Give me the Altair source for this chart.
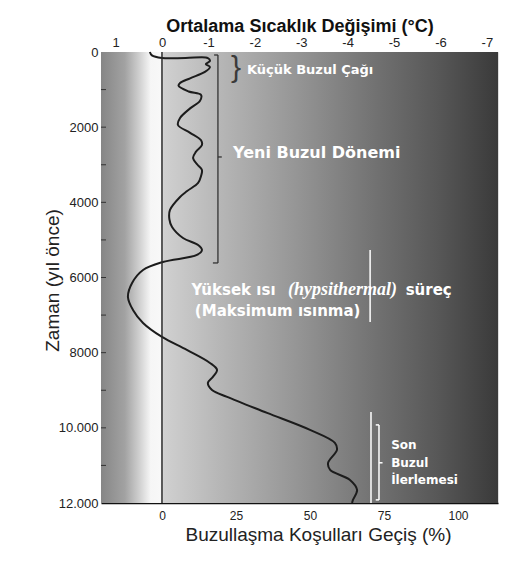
import altair as alt
import pandas as pd

# ---- data ----
curve_year = [0, 90, 160, 160, 160, 240, 320, 400, 530, 700, 825, 900, 1050, 1144, 1303, 1500,
              1756, 1942, 2150, 2350, 2474, 2650, 2820, 3000, 3139, 3300, 3485, 3700, 3857, 4203,
              4450, 4655, 4948, 5134, 5267, 5400, 5586, 5799, 6145, 6517, 6863, 7209, 7581, 7927,
              8273, 8459, 8645, 8805, 8991, 9177, 9603, 10055, 10401, 10587, 10933, 11119, 11385,
              11651, 11917, 12000]
curve_pct = [-4.1, -3.4, 0, 8, 15.5, 16.2, 14.8, 16.2, 14.5, 9.5, 6.1, 5.6, 9, 13.2, 12.8, 9.5,
             6.1, 5.4, 9.5, 13.2, 13.5, 11.5, 10.5, 12, 13.5, 13.2, 12.2, 8.5, 6.1, 2.7,
             2.5, 3.4, 7.1, 12.2, 13.5, 11.8, 0.3, -6.4, -10.1, -11.5, -9.8, -6.4, 0, 8.4,
             16.2, 18.6, 17.2, 15.5, 16.9, 22.0, 35.5, 50.0, 58.4, 59.1, 56.1, 56.8, 63.5,
             65.9, 64.5, 64.2]

y_tick_values = [0, 1000, 2000, 3000, 4000, 5000, 6000, 7000, 8000, 9000, 10000, 11000, 12000]
y_tick_labels = ["0", "", "2000", "", "4000", "", "6000", "", "8000", "", "10.000", "", "12.000"]
pct_ticks = [0, 25, 50, 75, 100]
temp_ticks = [1, 0, -1, -2, -3, -4, -5, -6, -7]

# annotations (data units: years / percent)
lia_text = ["Küçük Buzul Çağı"]
lia_year = [480]
lia_pct = [28.7]

neo_text = ["Yeni Buzul Dönemi"]
neo_year = [2700]
neo_pct = [24.0]

hyp_text = ["Yüksek ısı", "süreç", "(Maksimum ısınma)"]
hyp_year = [6330, 6330, 6900]
hyp_pct = [10.0, 82.3, 11.1]

ital_text = ["(hypsithermal)"]
ital_year = [6330]
ital_pct = [42.6]

son_text = ["Son", "Buzul", "İlerlemesi"]
son_year = [10450, 10930, 11380]
son_pct = [77.4, 77.4, 77.4]

dark_seg_p1 = [18.9, 17.2, 18.9, 17.6]
dark_seg_p2 = [18.9, 18.9, 20.2, 18.9]
dark_seg_y1 = [80, 5613, 2793, 80]
dark_seg_y2 = [5613, 5613, 2793, 80]

white_seg_p1 = [70.6, 70.3, 73.3, 72.2, 72.2, 73.3]
white_seg_p2 = [70.6, 70.3, 73.3, 73.3, 73.3, 74.5]
white_seg_y1 = [9576, 5267, 9922, 9922, 11917, 10930]
white_seg_y2 = [12000, 7182, 11917, 9922, 11917, 10930]

W, H = 397, 451
pct_scale = alt.Scale(domain=[-20.6, 113.5], nice=False, zero=False)
year_scale = alt.Scale(domain=[0, 12000], nice=False, zero=False, reverse=True)

label_expr = " : ".join(
    [f"datum.value == {v} ? '{l}'" for v, l in zip(y_tick_values, y_tick_labels)]
) + " : ''"

gradient = alt.Gradient(
    gradient="linear", x1=0, x2=1, y1=0, y2=0,
    stops=[
        alt.GradientStop(offset=0.0, color="#868686"),
        alt.GradientStop(offset=0.06, color="#a2a2a2"),
        alt.GradientStop(offset=0.10, color="#d4d4d4"),
        alt.GradientStop(offset=0.125, color="#f6f6f6"),
        alt.GradientStop(offset=0.150, color="#f8f8f8"),
        alt.GradientStop(offset=0.158, color="#d0d0d0"),
        alt.GradientStop(offset=0.30, color="#b6b6b6"),
        alt.GradientStop(offset=0.50, color="#949494"),
        alt.GradientStop(offset=0.70, color="#707070"),
        alt.GradientStop(offset=0.85, color="#575757"),
        alt.GradientStop(offset=1.0, color="#3a3a3a"),
    ],
)

X = lambda f: alt.X(f"{f}:Q", scale=pct_scale)
Y = lambda f: alt.Y(f"{f}:Q", scale=year_scale)

one = pd.DataFrame({"a": [0]})
bg = alt.Chart(one).mark_rect(color=gradient).encode(
    x=alt.value(0), x2=alt.value(W), y=alt.value(0), y2=alt.value(H)
)

curve_df = pd.DataFrame({"year": curve_year, "pct": curve_pct})
curve = alt.Chart(curve_df).mark_line(
    interpolate="catmull-rom", color="#1c1c1c", strokeWidth=2
).encode(
    x=alt.X("pct:Q", scale=pct_scale, axis=alt.Axis(
        orient="bottom", values=pct_ticks, title="Buzullaşma Koşulları Geçiş (%)",
        grid=False, ticks=False, tickSize=0, labelPadding=7, labelFontSize=12,
        labelFont="Liberation Sans", labelColor="#222", domainColor="#111", domainWidth=1.5,
        titleFont="Liberation Sans", titleFontSize=19, titleFontWeight="normal",
        titleColor="#222", titlePadding=4, titleX=217)),
    y=alt.Y("year:Q", scale=year_scale, axis=alt.Axis(
        values=y_tick_values, labelExpr=label_expr, grid=False, ticks=False, tickSize=0,
        domain=False, labelPadding=3, labelFontSize=13, labelFont="Liberation Sans",
        labelColor="#222", title="Zaman (yıl önce)", titleFont="Liberation Sans",
        titleFontSize=19, titleFontWeight="normal", titleColor="#222",
        titleX=-49, titleY=228, titleBaseline="middle", titleAngle=-90)),
    order="year:Q",
)

zero_line = alt.Chart(pd.DataFrame({"pct": [0]})).mark_rule(color="#2a2a2a", strokeWidth=1.5).encode(
    x=X("pct")
)

ytick = alt.Chart(pd.DataFrame({"year": y_tick_values[1:-1]})).mark_rule(color="#333", strokeWidth=1).encode(
    x=alt.value(0), x2=alt.value(5), y=Y("year")
)

dark_df = pd.DataFrame({"pct": dark_seg_p1, "pct2": dark_seg_p2, "year": dark_seg_y1, "year2": dark_seg_y2})
dark_rules = alt.Chart(dark_df).mark_rule(color="#333", strokeWidth=1.3).encode(
    x=X("pct"), x2="pct2:Q", y=Y("year"), y2="year2:Q",
)

white_df = pd.DataFrame({"pct": white_seg_p1, "pct2": white_seg_p2, "year": white_seg_y1, "year2": white_seg_y2})
white_rules = alt.Chart(white_df).mark_rule(color="#ffffff", strokeWidth=1.5).encode(
    x=X("pct"), x2="pct2:Q", y=Y("year"), y2="year2:Q",
)

brace = alt.Chart(pd.DataFrame({"t": ["}"], "pct": [25.0], "year": [420]})).mark_text(
    font="Liberation Sans", fontSize=30, color="#3a3a3a", align="center", baseline="middle"
).encode(x=X("pct"), y=Y("year"), text="t:N")


def text_layer(texts, years, pcts, **kw):
    df = pd.DataFrame({"t": texts, "year": years, "pct": pcts})
    return alt.Chart(df).mark_text(align="left", baseline="middle", color="white", **kw).encode(
        x=X("pct"), y=Y("year"), text="t:N",
    )


t_lia = text_layer(lia_text, lia_year, lia_pct, font="DejaVu Sans", fontSize=13, fontWeight="bold")
t_neo = text_layer(neo_text, neo_year, neo_pct, font="DejaVu Sans", fontSize=16, fontWeight="bold")
t_hyp = text_layer(hyp_text, hyp_year, hyp_pct, font="DejaVu Sans", fontSize=15, fontWeight="bold")
t_ital = text_layer(ital_text, ital_year, ital_pct, font="Liberation Serif", fontSize=18,
                    fontWeight="bold", fontStyle="italic")
t_son = text_layer(son_text, son_year, son_pct, font="DejaVu Sans", fontSize=12, fontWeight="bold")

pct_layer = alt.layer(bg, curve, zero_line, ytick, dark_rules, white_rules, brace,
                      t_lia, t_neo, t_hyp, t_ital, t_son)

temp_layer = alt.Chart(pd.DataFrame({"t": temp_ticks})).mark_point(opacity=0).encode(
    x=alt.X("t:Q", scale=alt.Scale(domain=[1.315, -7.24], nice=False, zero=False),
            axis=alt.Axis(orient="top", values=temp_ticks, labelExpr="toString(datum.value)",
                          grid=False, ticks=False, tickSize=0, domain=False, labelPadding=3,
                          labelFontSize=13, labelFont="Liberation Sans", labelColor="#222",
                          title="Ortalama Sıcaklık Değişimi (°C)", titleFont="Liberation Sans",
                          titleFontSize=18, titleFontWeight="bold", titleColor="#111",
                          titlePadding=1)),
    y=alt.value(0),
)

chart = alt.layer(pct_layer, temp_layer).resolve_scale(x="independent").properties(
    width=W, height=H,
    autosize=alt.AutoSizeParams(type="none"),
    padding={"left": 93, "top": 44, "right": 8, "bottom": 44},
).configure_view(stroke=None).configure(background="white")

chart.save("out.html", embed_options={"renderer": "svg", "actions": False})
